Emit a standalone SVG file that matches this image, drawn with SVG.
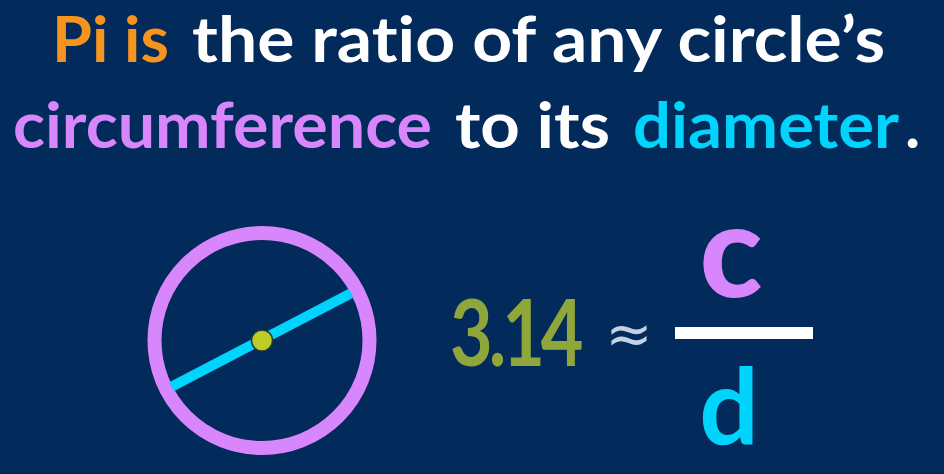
<svg xmlns="http://www.w3.org/2000/svg" width="944" height="474" viewBox="0 0 944 474">
  <style>
    text { font-variant-ligatures: none; font-feature-settings: "liga" 0, "clig" 0; }
    .t { font-family: Lato, "Noto Sans", "Liberation Sans", sans-serif; font-weight: bold; font-size: 64px; }
    .w { fill: #ffffff; }
    .o { fill: #f7941d; }
    .p { fill: #d886fb; }
    .b { fill: #00d4fd; }
  </style>
  <rect width="944" height="474" fill="#022a5a"/>
  <g id="title">
    <text class="t o" x="52" y="62" textLength="117" lengthAdjust="spacingAndGlyphs">Pi is</text>
    <text class="t w" x="192" y="62" textLength="693" lengthAdjust="spacingAndGlyphs">the ratio of any circle’s</text>
    <text class="t p" x="13" y="148" textLength="419" lengthAdjust="spacingAndGlyphs">circumference</text>
    <text class="t w" x="455" y="148" textLength="155" lengthAdjust="spacingAndGlyphs">to its</text>
    <text class="t b" x="633" y="148" textLength="266" lengthAdjust="spacingAndGlyphs">diameter</text>
    <text class="t w" x="905" y="148">.</text>
  </g>
  <g id="circle">
    <circle cx="262" cy="340.5" r="107.5" fill="none" stroke="#d886fb" stroke-width="14"/>
    <line x1="171.5" y1="386.7" x2="351" y2="293.3" stroke="#00d4fd" stroke-width="10"/>
    <circle cx="262" cy="340.5" r="10.5" fill="#bfcc28" stroke="#233a30" stroke-width="1.5"/>
  </g>
  <g id="formula">
    <text transform="translate(450,366) scale(0.8,1)" font-family="Lato, 'Noto Sans', sans-serif" font-weight="bold" font-size="92" letter-spacing="-5" fill="#8fa63a">3.14</text>
    <text x="629" y="353" text-anchor="middle" font-family="'DejaVu Sans', sans-serif" font-size="56" fill="#c4d2e6">≈</text>
    <rect x="675" y="327" width="138" height="12" fill="#ffffff"/>
    <text x="731" y="297" text-anchor="middle" font-family="Lato, 'Noto Sans', sans-serif" font-weight="900" font-size="130" fill="#d886fb">c</text>
    <text x="729" y="444" text-anchor="middle" font-family="Lato, 'Noto Sans', sans-serif" font-weight="bold" font-size="105" fill="#00d4fd">d</text>
  </g>
</svg>
